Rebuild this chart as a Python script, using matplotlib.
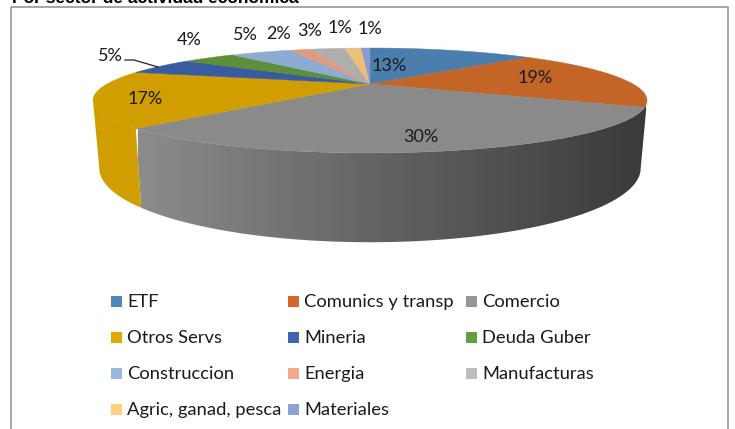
import numpy as np
import matplotlib
matplotlib.use('Agg')
import matplotlib.pyplot as plt
from matplotlib.patches import Polygon, Rectangle
from matplotlib.colors import LinearSegmentedColormap

# data
sectors = ['ETF', 'Comunics y transp', 'Comercio', 'Otros Servs', 'Mineria', 'Deuda Guber',
           'Construccion', 'Energia', 'Manufacturas', 'Agric, ganad, pesca', 'Materiales']
shares = [13, 19, 30, 17.2, 5.4, 4.1, 4.8, 1.7, 2.7, 1.3, 0.7]
face_colors = ['#4a7eac', '#c26526', '#8a8a8a', '#d09e00', '#375c9f', '#5d8f38',
               '#8cacd2', '#e09a80', '#aeaeae', '#eebf78', '#8a9ccc']
legend_colors = ['#4f86bd', '#d2692a', '#959595', '#e3a900', '#3d66ae', '#659e3f',
                 '#9ab9de', '#f1a88c', '#bdbdbd', '#fdd17f', '#8ea3d4']
title = 'Por sector de actividad económica'

label_xy = [(389, 66), (535, 78), (421, 137), (145, 99), (110, 56), (189, 40),
            (245, 35), (279, 34), (310, 31), (340, 28), (370, 29)]
legend_x = [111, 288, 466]
legend_y = [301.5, 337.5, 373.5, 409.5]

FONT = 'Lato'

fig = plt.figure(figsize=(7.35, 4.29), dpi=100)
ax = fig.add_axes([0, 0, 1, 1])


# perspective projection of the unit disc, angle is clockwise from the top
def project(theta, r=1.0, a=263, b=47.3, y0=84, k=0.314):
    X, Y = r * np.sin(theta), r * np.cos(theta)
    d = 1 + k * Y
    return 370 + a * X / d, y0 - b * Y / d


def bottom(theta):
    return project(theta, a=257, b=66.7, y0=145)


def wall_points(t1, t2):
    t = np.linspace(t1, t2, 80)
    top_x, top_y = project(t)
    bot_x, bot_y = bottom(t)
    return np.column_stack([np.r_[top_x, bot_x[::-1]], np.r_[top_y, bot_y[::-1]]])


edges = np.r_[0, np.cumsum(shares)] / np.sum(shares) * 2 * np.pi
extreme = np.arccos(-0.314)  # right silhouette of the disc

# side walls
grad = LinearSegmentedColormap.from_list('wall', ['#8c8c8c', '#616161', '#3a3a3a'])
gray_wall = Polygon(wall_points(extreme, edges[3]), closed=True, facecolor='none', edgecolor='none')
ax.add_patch(gray_wall)
im = ax.imshow(np.linspace(0, 1, 256).reshape(1, -1), cmap=grad, aspect='auto',
               extent=[138, 646, 245, 95], zorder=1)
im.set_clip_path(gray_wall)
ax.add_patch(Polygon(wall_points(edges[3], 2 * np.pi - extreme), closed=True,
                     facecolor='#d09e00', edgecolor='none', zorder=1))

# top face
for i, color in enumerate(face_colors):
    t = np.linspace(edges[i], edges[i + 1], 60)
    x, y = project(t)
    ax.add_patch(Polygon(np.column_stack([np.r_[370, x], np.r_[84, y]]), closed=True,
                         facecolor=color, edgecolor=color, linewidth=0.3, zorder=2))

# percent labels
for share, (x, y) in zip(shares, label_xy):
    ax.text(x, y, f'{share:.0f}%', fontsize=13, family=FONT, ha='center', va='center',
            color='#1a1a1a', zorder=4)
ax.plot([125, 134, 158], [60, 60, 67], color='#222222', linewidth=0.9, zorder=4)

# legend, filled row by row
for i, (name, color) in enumerate(zip(sectors, legend_colors)):
    row, col = i // 3, i % 3
    ax.add_patch(Rectangle((legend_x[col], legend_y[row] - 5.5), 11, 11, facecolor=color, edgecolor='none'))
    ax.text(legend_x[col] + 16.5, legend_y[row] + 0.5, name, fontsize=13.2, family=FONT, ha='left',
            va='center', color='#1a1a1a')

# frame and cut-off heading
ax.add_patch(Rectangle((11, 7), 717, 440, facecolor='none', edgecolor='#8e8e8e', linewidth=1.1, zorder=5))
ax.text(12, 3, title, fontsize=12.5, family='Liberation Sans', fontweight='bold', ha='left',
        va='baseline', color='black')

ax.set_xlim(0, 735)
ax.set_ylim(429, 0)
ax.axis('off')

fig.savefig('out.png', dpi=100, facecolor='white')
